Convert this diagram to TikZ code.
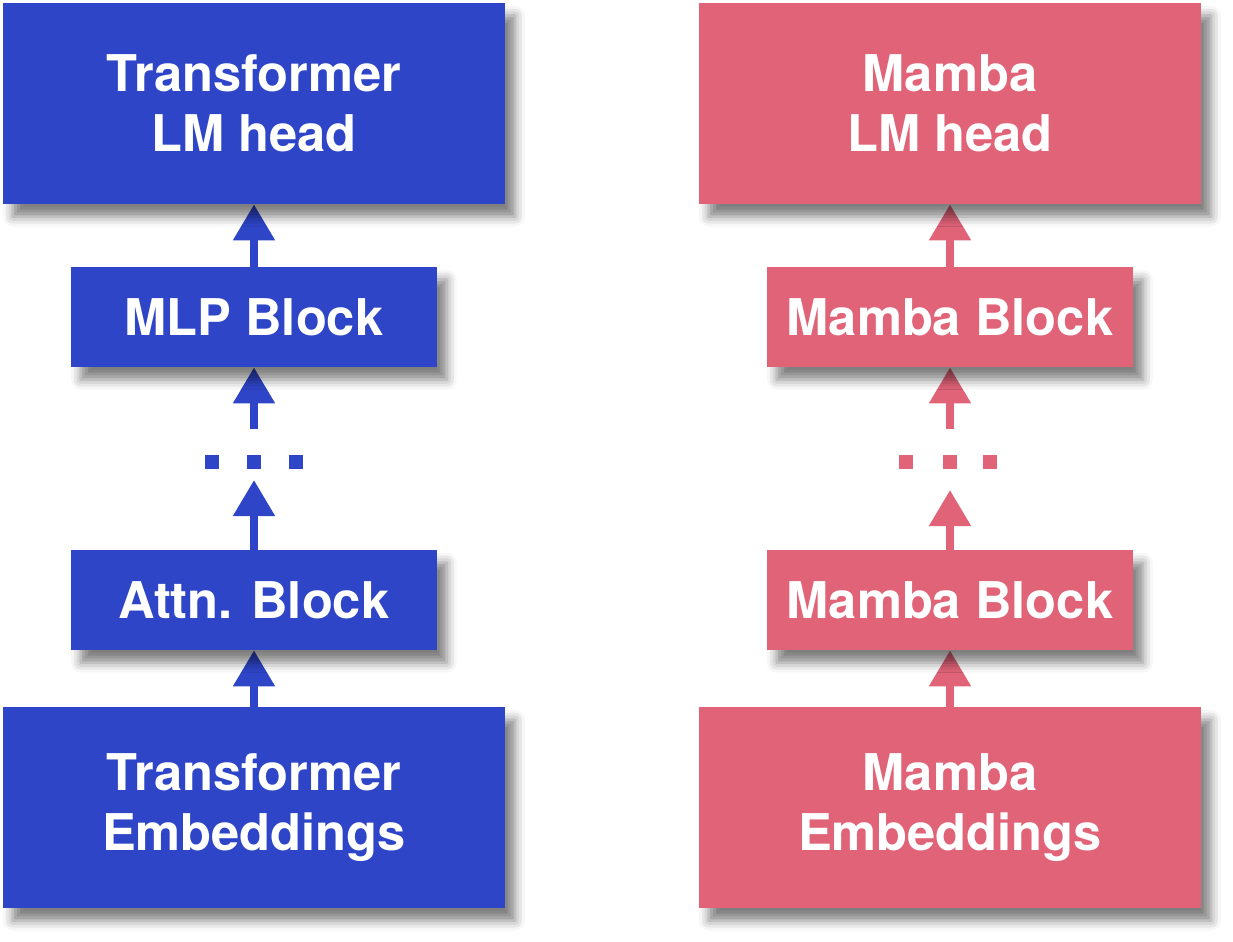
\documentclass[tikz,border=0pt]{standalone}
\usepackage{fontspec}
\setmainfont{TeX Gyre Heros}
\usetikzlibrary{arrows.meta}
\usetikzlibrary{shadows.blur}
\usetikzlibrary{backgrounds}
\definecolor{tfblue}{HTML}{2E45C8}
\definecolor{mbpink}{HTML}{E06378}

\begin{document}
\begin{tikzpicture}
[x=0.025cm,y=-0.025cm,%
  box/.style={draw=none,fill=#1,text=white,align=center,inner sep=0pt,%
    font=\bfseries\fontsize{36}{43}\selectfont,%
    blur shadow={shadow xshift=7pt,shadow yshift=-9pt,shadow blur radius=7pt,shadow opacity=50}},%
  bigbox/.style={box=#1,minimum width=12.55cm,minimum height=5.025cm},%
  blockbox/.style={box=#1,minimum width=9.15cm,minimum height=2.5cm},%
  dotbox/.style={fill=#1,draw=none,inner sep=0pt,minimum size=0.36cm},%
  up/.style={draw=#1,line width=0.2cm,-{Triangle[width=1cm,length=0.9cm]}}]
\useasboundingbox (0,0) rectangle (1233,941);
%% transformer
\node[bigbox=tfblue] (thead) at (254,103.5) {Transformer\\LM head};
\node[blockbox=tfblue] (tblk1) at (254,317) {MLP Block};
\node[blockbox=tfblue] (tblk2) at (254,600) {Attn. Block};
\node[bigbox=tfblue] (temb) at (254,807.5) {Transformer\\Embeddings};
\coordinate (tgap1) at (254,429);
\coordinate (tgap2) at (254,480);
\foreach \i/\dx in {1/-42,2/0,3/42}
  \node[dotbox=tfblue] (tdot\i) at (254+\dx,462) {};
%% mamba
\node[bigbox=mbpink] (mhead) at (950,103.5) {Mamba\\LM head};
\node[blockbox=mbpink] (mblk1) at (950,317) {Mamba Block};
\node[blockbox=mbpink] (mblk2) at (950,600) {Mamba Block};
\node[bigbox=mbpink] (memb) at (950,807.5) {Mamba\\Embeddings};
\coordinate (mgap1) at (950,429);
\coordinate (mgap2) at (950,490);
\foreach \i/\dx in {1/-44,2/0,3/40}
  \node[dotbox=mbpink] (mdot\i) at (950+\dx,462) {};
%%
\begin{scope}[on background layer]
\foreach \c/\clr in {t/tfblue, m/mbpink}
{
  \draw[up=\clr] (\c blk1.north) -- (\c head.south);
  \draw[up=\clr] (\c gap1) -- (\c blk1.south);
  \draw[up=\clr] (\c blk2.north) -- (\c gap2);
  \draw[up=\clr] (\c emb.north) -- (\c blk2.south);
}
\end{scope}
\end{tikzpicture}
\end{document}
